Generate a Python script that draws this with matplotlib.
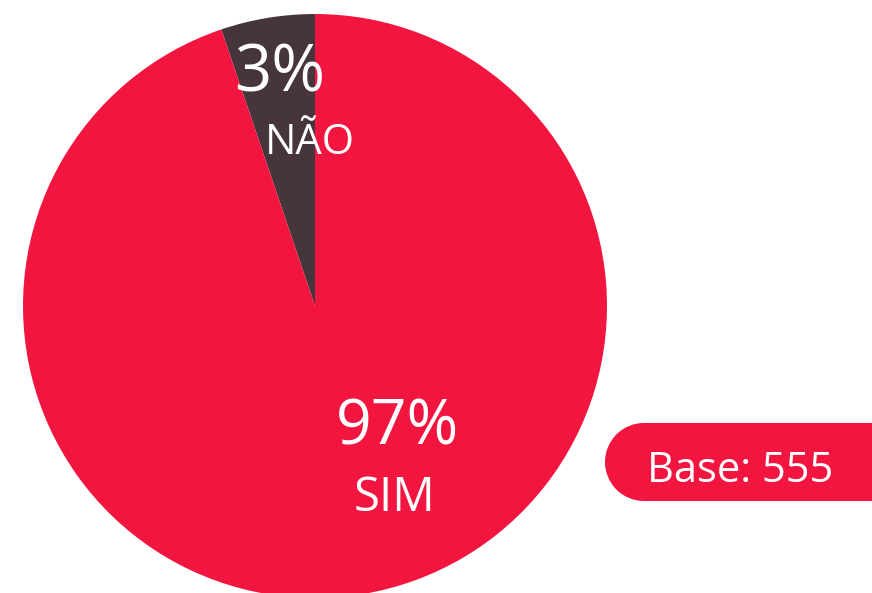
import matplotlib
matplotlib.use("Agg")
import matplotlib.pyplot as plt
from matplotlib.patches import Circle, Rectangle

# slice sizes as drawn in the picture (labels show the rounded survey figures)
categories = ["NÃO", "SIM"]
shares = [5.2, 94.8]
pct_labels = ["3%", "97%"]
base_text = "Base: 555"

colors = ["#46363B", "#F2153F"]

plt.rcParams['font.family'] = ['Open Sans', 'DejaVu Sans']

fig = plt.figure(figsize=(8.72, 5.93), dpi=100)
ax = fig.add_axes([0, 0, 1, 1])

ax.pie(shares, colors=colors, startangle=90, counterclock=True,
       center=(315, 287), radius=292, frame=True,
       wedgeprops=dict(linewidth=0))
ax.set_xlim(0, 872)
ax.set_ylim(0, 593)
ax.set_aspect('equal')
ax.axis('off')

# slice labels
ax.text(280, 518, pct_labels[0], color="white", fontsize=47, ha="center", va="center")
ax.text(310, 450, categories[0], color="white", fontsize=30, ha="center", va="center")
ax.text(397, 165, pct_labels[1], color="white", fontsize=45, ha="center", va="center")
ax.text(394, 95, categories[1], color="white", fontsize=34, ha="center", va="center")

# base badge (pill shape running off the right edge)
ax.add_patch(Circle((644, 131), 39, facecolor="#F2153F", edgecolor="none"))
ax.add_patch(Rectangle((644, 92), 300, 78, facecolor="#F2153F", edgecolor="none"))
ax.text(740, 122, base_text, color="white", fontsize=30, ha="center", va="center")

fig.savefig("out.png", dpi=100)
